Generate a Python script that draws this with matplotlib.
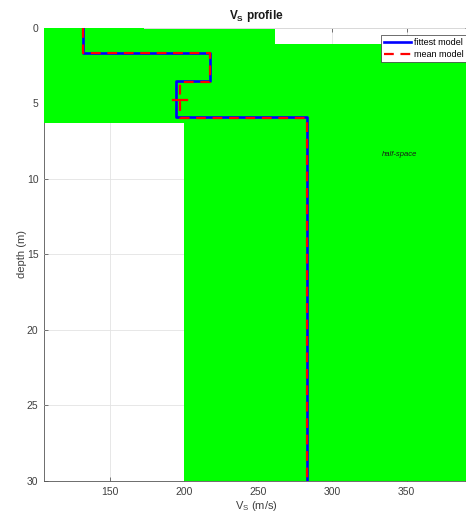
import matplotlib
matplotlib.use("Agg")
import matplotlib.pyplot as plt
from matplotlib.patches import Rectangle

plt.rcParams['font.family'] = ['Liberation Sans', 'DejaVu Sans']
plt.rcParams['mathtext.fontset'] = 'custom'
plt.rcParams['mathtext.rm'] = 'Liberation Sans'
plt.rcParams['mathtext.bf'] = 'Liberation Sans:bold'

# Search-space bounds for each parameter box (Vs range, depth range)
search_vs_min = [100, 100, 100, 200]
search_vs_max = [173, 261, 400, 400]
search_top = [0.0, 0.06, 1.1, 6.3]
search_bottom = [6.3, 1.1, 6.3, 30.0]

# Fittest model: layer velocities and interface depths
fit_vs = [132.3, 217.5, 194.4, 282.6]
fit_interfaces = [1.68, 3.52, 5.92]

# Mean model: layer velocities and interface depths
mean_vs = [132.3, 217.5, 197.3, 282.6]
mean_interfaces = [1.70, 3.60, 6.00]

# Standard deviation of the mean Vs per layer
mean_vs_std = [0.0, 0.0, 4.6, 0.0]

max_depth = 30.0
x_limits = (105.8, 392.0)
x_ticks = [150, 200, 250, 300, 350]
y_ticks = [0, 5, 10, 15, 20, 25, 30]


def staircase(vs, interfaces, bottom):
    xs, ys = [], []
    tops = [0.0] + list(interfaces)
    bots = list(interfaces) + [bottom]
    for v, t, b in zip(vs, tops, bots):
        xs += [v, v]
        ys += [t, b]
    return xs, ys


fig = plt.figure(figsize=(4.66, 5.17), dpi=100)
ax = fig.add_axes([44 / 466, 36 / 517, 425.1 / 466, 453.3 / 517])

for v0, v1, t, b in zip(search_vs_min, search_vs_max, search_top, search_bottom):
    ax.add_patch(Rectangle((v0, t), v1 - v0, b - t, facecolor='#00ff00',
                           edgecolor='none', zorder=1))

fx, fy = staircase(fit_vs, fit_interfaces, max_depth)
mx, my = staircase(mean_vs, mean_interfaces, max_depth)
ax.plot(fx, fy, color='#0000ff', lw=1.9, zorder=3, label='fittest model')
ax.plot(mx, my, color='#ff0000', lw=1.6, dashes=(4.4, 3.0), zorder=4,
        label='mean model')

# Horizontal error bars at the middle of each layer of the mean model
tops = [0.0] + mean_interfaces
bots = mean_interfaces + [max_depth]
for v, s, t, b in zip(mean_vs, mean_vs_std, tops, bots):
    if s > 0:
        ax.plot([v - s, v + s], [(t + b) / 2] * 2, color='#ff0000', lw=1.6,
                zorder=4)

ax.text(345.5, 8.4, 'half-space', fontsize=5.5, style='italic',
        ha='center', va='center', color='#1a1a1a', zorder=5)

ax.set_xlim(*x_limits)
ax.set_ylim(max_depth, 0)
ax.set_xticks(x_ticks)
ax.set_yticks(y_ticks)
ax.set_axisbelow(True)
ax.grid(True, color='#e3e3e3', lw=0.6)
ax.tick_params(direction='in', length=3, width=0.5, colors='#404040',
               labelsize=7.5, top=True, right=True, pad=4)
for side, sp in ax.spines.items():
    sp.set_color('#555555')
    sp.set_linewidth(0.6)
ax.spines['top'].set_zorder(0.5)
ax.spines['left'].set_zorder(0.5)
ax.spines['top'].set_color('#999999')

ax.set_xlabel(r'V$_\mathregular{S}$ (m/s)', fontsize=8, color='#404040',
              labelpad=2)
ax.set_ylabel('depth (m)', fontsize=8, color='#404040', labelpad=0)
ax.set_title(r'V$_\mathbf{S}$ profile', fontsize=8.5, fontweight='bold',
             color='#1a1a1a', pad=6)

leg = ax.legend(loc='upper right', fontsize=6.5, frameon=True, fancybox=False,
                edgecolor='#333333', framealpha=1, borderpad=0.3,
                handlelength=3.0, handletextpad=0.3, labelspacing=0.35,
                borderaxespad=0.0, bbox_to_anchor=(0.993, 0.983))
leg.get_frame().set_linewidth(0.5)
leg.set_zorder(6)

fig.savefig('out.png', dpi=100)
